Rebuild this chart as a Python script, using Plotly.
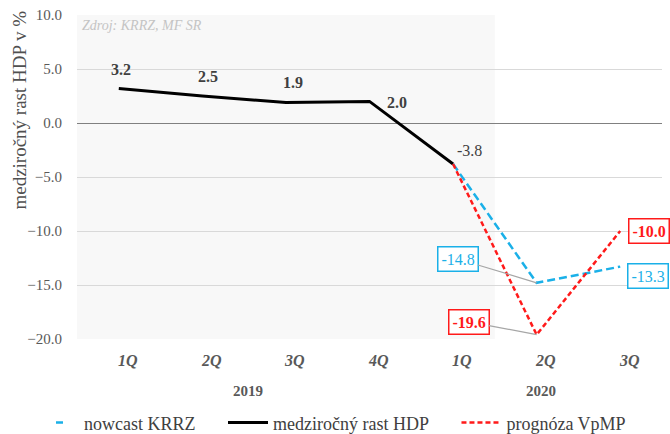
import plotly.graph_objects as go

quarters = ["1Q", "2Q", "3Q", "4Q", "1Q", "2Q", "3Q"]
years = ["2019", "2020"]
year_center = [1.5, 5.0]
x_idx = list(range(len(quarters)))

gdp_x = [0, 1, 2, 3, 4]
gdp = [3.2, 2.5, 1.9, 2.0, -3.8]
nowcast_x = [4, 5, 6]
nowcast = [-3.8, -14.8, -13.3]
prognoza_x = [4, 5, 6]
prognoza = [-3.8, -19.6, -10.0]

CYAN = "#1ab0e8"
RED = "#ff1a1a"
FONT = "Liberation Serif"
PAD = "\u00a0" * 5

fig = go.Figure()

fig.add_trace(go.Scatter(x=nowcast_x, y=nowcast, mode="lines", name="nowcast KRRZ", showlegend=False,
                         line=dict(color=CYAN, width=2.5, dash="8px,4px")))
# legend-only entry showing the short dash as in the reference
fig.add_trace(go.Scatter(x=[None], y=[None], mode="lines", name="nowcast KRRZ" + PAD,
                         line=dict(color=CYAN, width=2.5, dash="0px,17px,7px,100px")))
fig.add_trace(go.Scatter(x=gdp_x, y=gdp, mode="lines", name="medziročný rast HDP" + PAD,
                         line=dict(color="#000000", width=3)))
fig.add_trace(go.Scatter(x=prognoza_x, y=prognoza, mode="lines", name="prognóza VpMP",
                         line=dict(color=RED, width=2.5, dash="5px,3px")))

# shaded historical region
fig.add_shape(type="rect", xref="x", yref="paper", x0=-0.5, x1=4.5, y0=0, y1=1,
              fillcolor="#f8f8f8", line=dict(width=0), layer="below")

annotations = []
# GDP labels
gdp_shift = [(2, 19), (6, 20), (7, 20), (27, -1), (16, 14)]
for i, (xv, yv) in enumerate(zip(gdp_x, gdp)):
    bold = i < 4
    txt = f"{yv:.1f}"
    annotations.append(dict(x=xv, y=yv, xref="x", yref="y", text=f"<b>{txt}</b>" if bold else txt,
                            showarrow=False, xshift=gdp_shift[i][0], yshift=gdp_shift[i][1],
                            font=dict(family=FONT, size=16, color="#404040")))

# boxed labels with leaders
annotations.append(dict(x=nowcast_x[1], y=nowcast[1], xref="x", yref="y", text=f"{nowcast[1]:.1f}",
                        showarrow=True, arrowhead=0, arrowwidth=1.2, arrowcolor="#a6a6a6",
                        ax=-79, ay=-24, bordercolor=CYAN, borderwidth=1.5, borderpad=3, bgcolor="white",
                        font=dict(family=FONT, size=16, color=CYAN)))
annotations.append(dict(x=prognoza_x[1], y=prognoza[1], xref="x", yref="y", text=f"<b>{prognoza[1]:.1f}</b>",
                        showarrow=True, arrowhead=0, arrowwidth=1.2, arrowcolor="#a6a6a6",
                        ax=-68, ay=-13, bordercolor=RED, borderwidth=1.5, borderpad=3, bgcolor="white",
                        font=dict(family=FONT, size=16, color=RED)))
annotations.append(dict(x=nowcast_x[2], y=nowcast[2], xref="x", yref="y", text=f"{nowcast[2]:.1f}",
                        showarrow=False, xanchor="left", xshift=7, yshift=-9,
                        bordercolor=CYAN, borderwidth=1.5, borderpad=3, bgcolor="white",
                        font=dict(family=FONT, size=16, color=CYAN)))
annotations.append(dict(x=prognoza_x[2], y=prognoza[2], xref="x", yref="y", text=f"<b>{prognoza[2]:.1f}</b>",
                        showarrow=False, xanchor="left", xshift=8, yshift=0,
                        bordercolor=RED, borderwidth=1.5, borderpad=3, bgcolor="white",
                        font=dict(family=FONT, size=16, color=RED)))

# quarter tick labels
for xv, q in zip(x_idx, quarters):
    annotations.append(dict(x=xv, y=0, xref="x", yref="paper", text=f"<i><b>{q}</b></i>",
                            showarrow=False, yanchor="top", yshift=-11, xshift=9,
                            font=dict(family=FONT, size=16, color="#595959")))
for xv, yr in zip(year_center, years):
    annotations.append(dict(x=xv, y=0, xref="x", yref="paper", text=f"<b>{yr}</b>",
                            showarrow=False, yanchor="top", yshift=-42, xshift=4,
                            font=dict(family=FONT, size=15, color="#595959")))

# y-axis title (placed as in the reference, above centre)
annotations.append(dict(x=0, y=0.705, xref="paper", yref="paper", text="medziročný rast HDP v %",
                        textangle=-90, showarrow=False, xanchor="center", yanchor="middle", xshift=-57,
                        font=dict(family=FONT, size=19, color="#505050")))

# source note
annotations.append(dict(x=0, y=1, xref="paper", yref="paper", text="<i>Zdroj: KRRZ, MF SR</i>",
                        showarrow=False, xanchor="left", yanchor="top", xshift=3, yshift=-1,
                        font=dict(family=FONT, size=14, color="#c4c4c4")))

fig.update_layout(
    width=670, height=434,
    margin=dict(l=77, r=8, t=15, b=95, autoexpand=False),
    paper_bgcolor="white", plot_bgcolor="white",
    font=dict(family=FONT, size=14, color="#595959"),
    showlegend=True,
    legend=dict(orientation="h", x=-0.0735, xanchor="left", y=-0.259, yanchor="middle",
                font=dict(family=FONT, size=18, color="#404040"), itemwidth=40,
                tracegroupgap=0, bgcolor="rgba(0,0,0,0)"),
    annotations=annotations,
    xaxis=dict(range=[-0.5, 6.5], showticklabels=False, showgrid=False, zeroline=False,
               showline=False, ticks="", automargin=False),
    yaxis=dict(range=[-20, 10], dtick=5, tickformat=".1f", showgrid=True, gridcolor="#d9d9d9",
               gridwidth=1, zeroline=True, zerolinecolor="#808080", zerolinewidth=1,
               showline=False, ticks="", ticklabelstandoff=14, automargin=False,
               tickfont=dict(family=FONT, size=15, color="#595959")),
)

fig.write_html("out.html", config={"displayModeBar": False},
               post_script="document.body.style.margin='0';document.body.style.overflow='hidden';")
